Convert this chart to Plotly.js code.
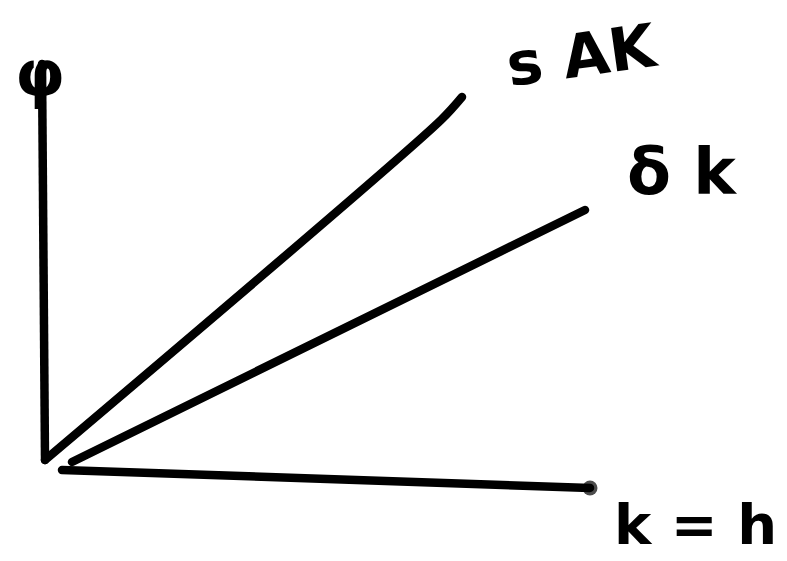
<!DOCTYPE html>
<html>
<head>
<meta charset="utf-8">
<script src="https://cdn.plot.ly/plotly-3.0.1.min.js"></script>
<style>
  html, body { margin: 0; padding: 0; background: #fff; }
  #chart { width: 787px; height: 561px; }
  .js-line { stroke-linecap: round; stroke-linejoin: round; }
</style>
</head>
<body>
<div id="chart"></div>
<script>
// Sketch of the AK growth diagram: saving curve s·A·k against depreciation δ·k.
const savingK = [0, 396, 417];
const savingV = [0, 340, 363];
const deprK = [27, 540];
const deprV = [-2, 250];
const kAxisK = [17, 545];
const kAxisV = [-10, -28];
const phiAxisK = [-3, 0];
const phiAxisV = [396, 0];
const labelText = ['s AK', 'δ k', 'k = h', 'φ'];
const labelK = [537, 637, 650, -5];
const labelV = [405, 288, -64, 386];
const labelSize = [60, 64, 56, 64];
const labelTilt = [-8, 0, 0, 0];

const ink = '#000';
const stroke = (x, y, w) => ({
  x, y, type: 'scatter', mode: 'lines',
  line: { color: ink, width: w, shape: 'spline', smoothing: 0.8 },
  hoverinfo: 'skip', showlegend: false
});

const traces = [
  stroke(phiAxisK, phiAxisV, 8.5),
  stroke(savingK, savingV, 8.5),
  stroke(deprK, deprV, 8.5),
  Object.assign(stroke(kAxisK, kAxisV, 8.5), {
    mode: 'lines+markers',
    marker: { symbol: 'circle', size: [0, 15], color: ink, line: { width: 0 } }
  })
];

const annotations = labelText.map((t, i) => ({
  x: labelK[i], y: labelV[i], xref: 'x', yref: 'y',
  text: t, showarrow: false, textangle: labelTilt[i],
  font: { family: 'DejaVu Sans', size: labelSize[i], color: ink, weight: 'bold' }
}));

const layout = {
  width: 787, height: 561,
  margin: { l: 0, r: 0, t: 0, b: 0 },
  paper_bgcolor: '#fff', plot_bgcolor: '#fff',
  xaxis: { range: [-45, 742], visible: false, fixedrange: true },
  yaxis: { range: [-101, 460], visible: false, fixedrange: true },
  annotations
};

Plotly.newPlot('chart', traces, layout, { displayModeBar: false, staticPlot: true });
</script>
</body>
</html>
